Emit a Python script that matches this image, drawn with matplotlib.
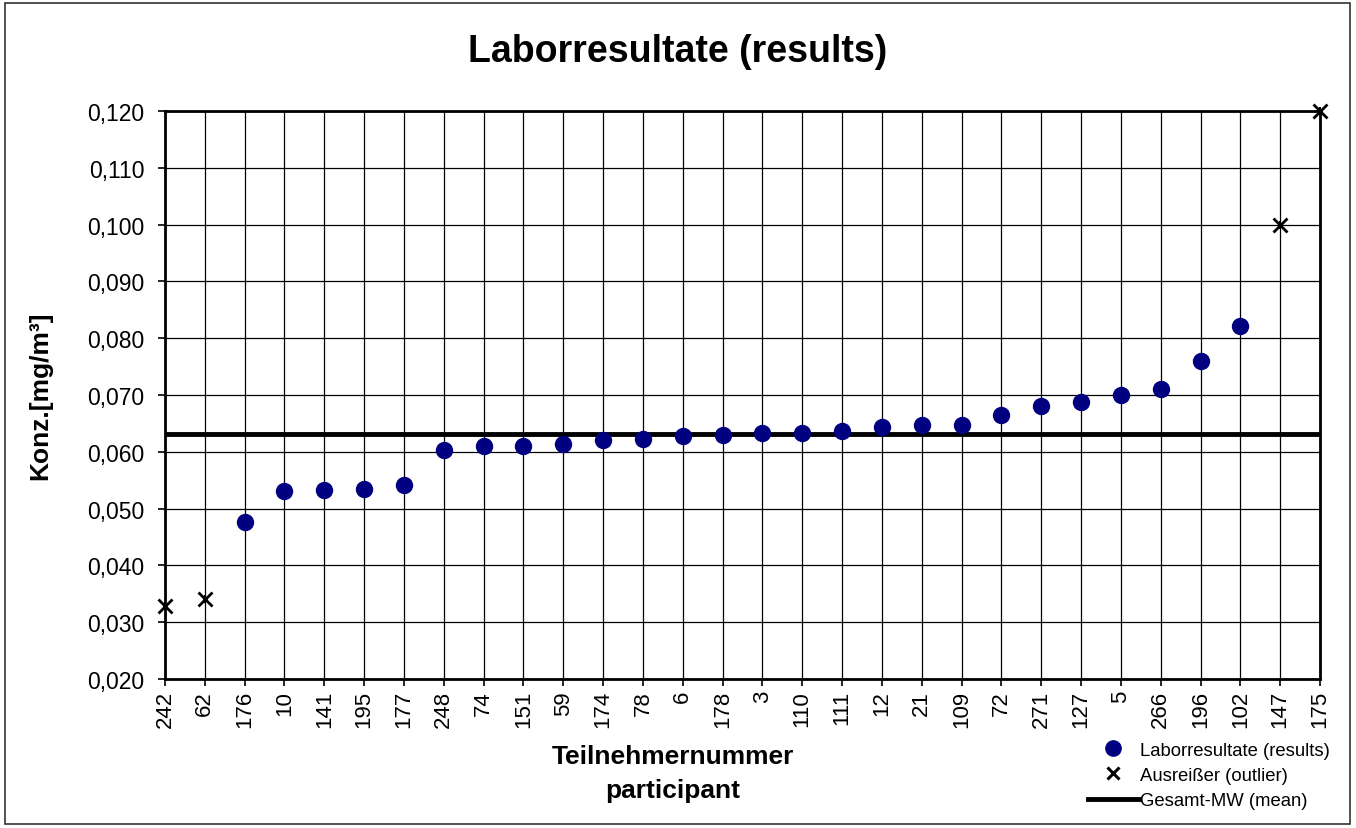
import matplotlib
matplotlib.use("Agg")
import matplotlib.pyplot as plt
from matplotlib.lines import Line2D
from matplotlib.patches import Rectangle
from matplotlib.ticker import FuncFormatter

plt.rcParams['font.family'] = ['Liberation Sans', 'DejaVu Sans']

participants = ['242', '62', '176', '10', '141', '195', '177', '248', '74', '151',
                '59', '174', '78', '6', '178', '3', '110', '111', '12', '21',
                '109', '72', '271', '127', '5', '266', '196', '102', '147', '175']
results = [None, None, 0.0477, 0.0531, 0.0533, 0.0534, 0.0541, 0.0603, 0.0611, 0.0611,
           0.0614, 0.0620, 0.0623, 0.0628, 0.0630, 0.0633, 0.0633, 0.0636, 0.0644, 0.0647,
           0.0647, 0.0665, 0.0680, 0.0687, 0.0700, 0.0710, 0.0760, 0.0821, None, None]
outliers = [0.0328, 0.0341, None, None, None, None, None, None, None, None,
            None, None, None, None, None, None, None, None, None, None,
            None, None, None, None, None, None, None, None, 0.1000, 0.1200]
mean_value = 0.0632

fig = plt.figure(figsize=(13.56, 8.29), dpi=100)
ax = fig.add_axes([165 / 1356, 1 - 680 / 829, 1155 / 1356, 568 / 829])

# Rahmen um die ganze Grafik
fig.patches.append(Rectangle((5 / 1356, 4 / 829), 1345 / 1356, 821 / 829,
                             transform=fig.transFigure, fill=False,
                             edgecolor='#333333', linewidth=1.2))

x = list(range(len(participants)))
rx = [i for i, v in zip(x, results) if v is not None]
ry = [v for v in results if v is not None]
ox = [i for i, v in zip(x, outliers) if v is not None]
oy = [v for v in outliers if v is not None]

ax.axhline(mean_value, color='black', linewidth=3.5, zorder=3)
ax.plot(rx, ry, 'o', color='#000080', markersize=11.5, linestyle='none', zorder=4)
ax.plot(ox, oy, 'x', color='black', markersize=10, markeredgewidth=2,
        linestyle='none', zorder=5, clip_on=False)
ax.plot(ox, oy, '|', color='black', markersize=6, markeredgewidth=1.5,
        linestyle='none', zorder=5, clip_on=False)

ax.set_xlim(0, len(participants) - 1)
ax.set_ylim(0.02, 0.12)
ax.set_xticks(x)
ax.set_xticklabels(participants, rotation=90, fontsize=16)
ax.set_yticks([0.02 + 0.01 * i for i in range(11)])
ax.yaxis.set_major_formatter(FuncFormatter(lambda v, p: f'{v:.3f}'.replace('.', ',')))
ax.tick_params(axis='y', labelsize=16.5, length=5, width=1.2, pad=10)
ax.tick_params(axis='x', length=5, width=1.2, pad=3)
ax.grid(True, color='black', linewidth=0.9)
ax.set_axisbelow(True)
for s in ax.spines.values():
    s.set_linewidth(2)

ax.set_ylabel('Konz.[mg/m³]', fontsize=19, fontweight='bold', labelpad=25)
fig.text(673 / 1356, 1 - 774 / 829, 'Teilnehmernummer\nparticipant', ha='center', va='center',
         fontsize=19, fontweight='bold', linespacing=1.5)
fig.text(678 / 1356, 1 - 52 / 829, 'Laborresultate (results)', ha='center', va='center',
         fontsize=27, fontweight='bold')

handles = [
    Line2D([], [], marker='o', color='#000080', linestyle='none', markersize=11),
    Line2D([], [], marker='x', color='black', linestyle='none', markersize=8, markeredgewidth=2.2),
    Line2D([], [], color='black', linewidth=3.5),
]
labels = ['Laborresultate (results)', 'Ausreißer (outlier)', 'Gesamt-MW (mean)']
fig.legend(handles, labels, loc='lower right', bbox_to_anchor=(1343 / 1356, 6 / 829),
           frameon=False, fontsize=13.3, handlelength=2.8, handletextpad=0.05,
           labelspacing=0.44, borderpad=0.2)

fig.savefig('out.png', dpi=100)
